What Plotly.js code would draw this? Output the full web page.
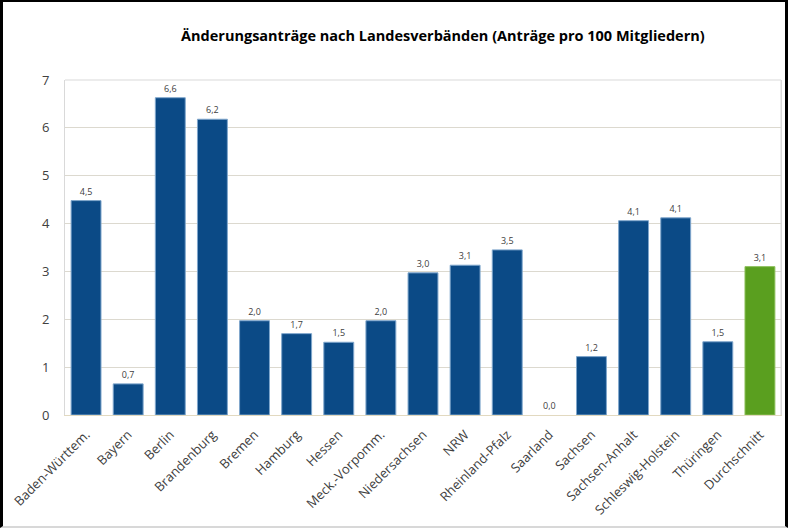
<!DOCTYPE html>
<html>
<head>
<meta charset="utf-8">
<script src="https://cdn.plot.ly/plotly-3.0.1.min.js"></script>
<style>
html,body{margin:0;padding:0;background:#fff;}
#wrap{position:relative;width:788px;height:528px;overflow:hidden;}
#chart{position:absolute;left:0;top:0;width:788px;height:528px;}
#frame{position:absolute;left:0;top:0;width:788px;height:528px;box-sizing:border-box;border-top:2px solid #000;border-left:3px solid #000;border-right:3px solid #000;border-bottom:2px solid #d8d8d8;pointer-events:none;}
</style>
</head>
<body>
<div id="wrap"><div id="chart"></div><div id="frame"></div></div>
<script>
const categories = ["Baden-Württem.","Bayern","Berlin","Brandenburg","Bremen","Hamburg","Hessen","Meck.-Vorpomm.","Niedersachsen","NRW","Rheinland-Pfalz","Saarland","Sachsen","Sachsen-Anhalt","Schleswig-Holstein","Thüringen","Durchschnitt"];
const values = [4.48, 0.65, 6.63, 6.18, 1.97, 1.70, 1.52, 1.97, 2.97, 3.13, 3.45, 0.0, 1.22, 4.06, 4.12, 1.53, 3.10];
const valueLabels = ["4,5","0,7","6,6","6,2","2,0","1,7","1,5","2,0","3,0","3,1","3,5","0,0","1,2","4,1","4,1","1,5","3,1"];
const yTicks = [0,1,2,3,4,5,6,7];

const colors = categories.map((c,i)=> i===categories.length-1 ? "#5a9f1f" : "#0b4a86");
const lineColors = categories.map((c,i)=> i===categories.length-1 ? "#8cbf5a" : "#7fa6cc");
const lineWidths = values.map(v => v > 0 ? 1 : 0);

const trace = {
  type: "bar",
  x: categories,
  y: values,
  text: valueLabels,
  textposition: "outside",
  cliponaxis: false,
  textfont: {family: "Open Sans, sans-serif", size: 9, color: "#404040"},
  marker: {color: colors, line: {color: lineColors, width: lineWidths}},
  hoverinfo: "x+y"
};

const layout = {
  width: 788, height: 528,
  margin: {l: 65, r: 7, t: 80, b: 113},
  paper_bgcolor: "#fff", plot_bgcolor: "#fff",
  bargap: 0.29,
  showlegend: false,
  title: {
    text: "<b>Änderungsanträge nach Landesverbänden (Anträge pro 100 Mitgliedern)</b>",
    font: {family: "Open Sans, sans-serif", size: 14.5, color: "#000"},
    x: 0.562, xanchor: "center", y: 0.932, yanchor: "middle"
  },
  xaxis: {
    type: "category",
    tickangle: -45,
    tickfont: {family: "Open Sans, sans-serif", size: 13, color: "#404040"},
    showline: true, linecolor: "#e2d9c0", linewidth: 1, mirror: false,
    ticks: "outside", ticklen: 6, tickcolor: "rgba(0,0,0,0)",
    showgrid: false, automargin: false
  },
  yaxis: {
    range: [0, 7],
    tickvals: yTicks,
    ticktext: yTicks.map(String),
    tickfont: {family: "Open Sans, sans-serif", size: 13, color: "#404040"},
    showgrid: true, gridcolor: "#dcd9cf", gridwidth: 1,
    showline: true, linecolor: "#d9d9d9", mirror: true,
    ticks: "outside", ticklen: 12, tickcolor: "rgba(0,0,0,0)",
    zeroline: false, automargin: false
  },
  shapes: [
    {type: "line", xref: "paper", yref: "paper", x0: 1, x1: 1, y0: 0, y1: 1, line: {color: "#d9d9d9", width: 1}},
    {type: "line", xref: "paper", yref: "paper", x0: 0, x1: 1, y0: 1, y1: 1, line: {color: "#d9d9d9", width: 1}}
  ]
};

Plotly.newPlot("chart", [trace], layout, {displayModeBar: false, staticPlot: true});
</script>
</body>
</html>
